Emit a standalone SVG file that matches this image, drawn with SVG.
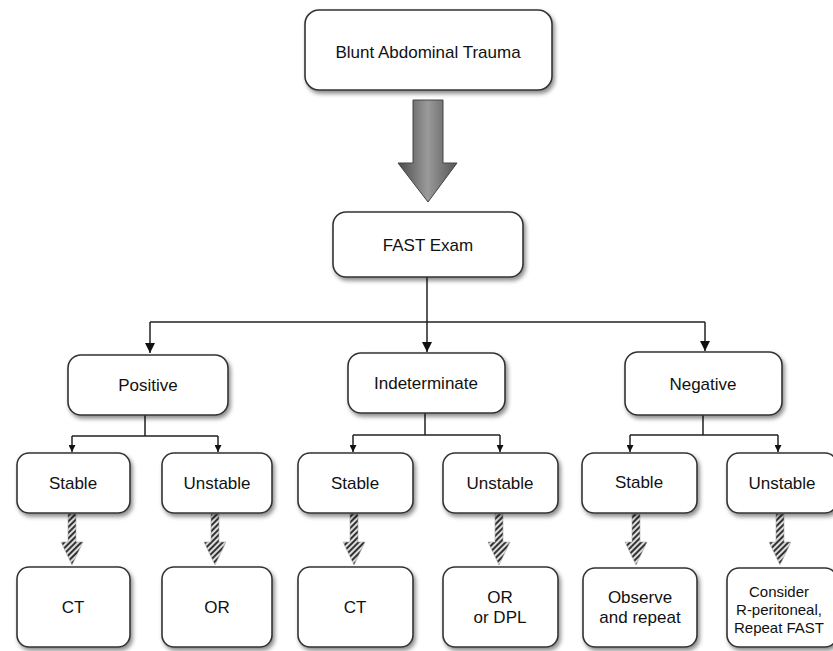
<svg xmlns="http://www.w3.org/2000/svg" width="833" height="651" viewBox="0 0 833 651">
<defs>
<style>
.box{fill:#fff;stroke:#333;stroke-width:1.6;filter:url(#sh)}
.t{font-family:"Liberation Sans",Arial,sans-serif;font-size:17px;fill:#111;text-anchor:middle}
.ts{font-family:"Liberation Sans",Arial,sans-serif;font-size:15px;fill:#111;text-anchor:middle}
.ln{fill:none;stroke:#222;stroke-width:1.5}
.hat{fill:url(#hatch);stroke:#aaa;stroke-width:0.6}
</style>
<filter id="sh" x="-20%" y="-20%" width="140%" height="150%">
<feDropShadow dx="2" dy="3" stdDeviation="2" flood-color="#000" flood-opacity="0.45"/>
</filter>
<linearGradient id="big" x1="0" y1="0" x2="1" y2="0">
<stop offset="0" stop-color="#4a4a4a"/>
<stop offset="0.5" stop-color="#9a9a9a"/>
<stop offset="1" stop-color="#555"/>
</linearGradient>
<pattern id="hatch" width="4" height="4" patternUnits="userSpaceOnUse" patternTransform="rotate(45)">
<rect x="0" y="0" width="4" height="4" fill="#ddd"/>
<rect x="0" y="0" width="2" height="4" fill="#333"/>
</pattern>
<marker id="ah" viewBox="0 0 10 10" refX="10" refY="5" markerWidth="7" markerHeight="7" markerUnits="userSpaceOnUse" orient="auto">
<path d="M0,0 L10,5 L0,10 z" fill="#111"/>
</marker>
<marker id="ahb" viewBox="0 0 10 10" refX="10" refY="5" markerWidth="10" markerHeight="10" markerUnits="userSpaceOnUse" orient="auto">
<path d="M0,0 L10,5 L0,10 z" fill="#111"/>
</marker>
</defs>

<g id="connectors">
<polygon points="413,100 443,100 443,163 457,163 428,202 398,163 413,163" fill="url(#big)" stroke="#444" stroke-width="1"/>
<path class="ln" d="M427,277 V322"/>
<path class="ln" d="M150,322 H705"/>
<path class="ln" d="M150,322 V353" marker-end="url(#ahb)"/>
<path class="ln" d="M427,322 V352" marker-end="url(#ahb)"/>
<path class="ln" d="M705,322 V351" marker-end="url(#ahb)"/>

<path class="ln" d="M145,415 V436 M72,436 H218"/>
<path class="ln" d="M72,436 V452" marker-end="url(#ah)"/>
<path class="ln" d="M218,436 V452" marker-end="url(#ah)"/>

<path class="ln" d="M425,413 V435 M353,435 H500"/>
<path class="ln" d="M353,435 V452" marker-end="url(#ah)"/>
<path class="ln" d="M500,435 V452" marker-end="url(#ah)"/>

<path class="ln" d="M703,415 V435 M630,435 H778"/>
<path class="ln" d="M630,435 V452" marker-end="url(#ah)"/>
<path class="ln" d="M778,435 V452" marker-end="url(#ah)"/>

<polygon class="hat" points="68,514 76,514 76,542 83,542 72,565 61,542 68,542"/>
<polygon class="hat" points="211,514 219,514 219,542 226,542 215,565 204,542 211,542"/>
<polygon class="hat" points="350,514 358,514 358,542 365,542 354,565 343,542 350,542"/>
<polygon class="hat" points="495,514 503,514 503,542 510,542 499,565 488,542 495,542"/>
<polygon class="hat" points="632,514 640,514 640,542 647,542 636,565 625,542 632,542"/>
<polygon class="hat" points="776,514 784,514 784,542 791,542 780,565 769,542 776,542"/>
</g>

<g id="n-trauma"><rect class="box" x="305" y="10" width="247" height="80" rx="14"/><text class="t" x="428" y="58">Blunt Abdominal Trauma</text></g>
<g id="n-fast"><rect class="box" x="333" y="212" width="190" height="65" rx="13"/><text class="t" x="428" y="251">FAST Exam</text></g>

<g id="n-positive"><rect class="box" x="68" y="355" width="160" height="60" rx="13"/><text class="t" x="148" y="391">Positive</text></g>
<g id="n-indeterminate"><rect class="box" x="348" y="353" width="157" height="60" rx="13"/><text class="t" x="426" y="389">Indeterminate</text></g>
<g id="n-negative"><rect class="box" x="625" y="352" width="157" height="63" rx="13"/><text class="t" x="703" y="390">Negative</text></g>

<g id="n-pos-stable"><rect class="box" x="17" y="453" width="113" height="60" rx="12"/><text class="t" x="73" y="489">Stable</text></g>
<g id="n-pos-unstable"><rect class="box" x="162" y="453" width="110" height="60" rx="12"/><text class="t" x="217" y="489">Unstable</text></g>
<g id="n-ind-stable"><rect class="box" x="298" y="453" width="115" height="60" rx="12"/><text class="t" x="355" y="489">Stable</text></g>
<g id="n-ind-unstable"><rect class="box" x="443" y="453" width="115" height="60" rx="12"/><text class="t" x="500" y="489">Unstable</text></g>
<g id="n-neg-stable"><rect class="box" x="582" y="453" width="115" height="60" rx="12"/><text class="t" x="639" y="488">Stable</text></g>
<g id="n-neg-unstable"><rect class="box" x="727" y="453" width="110" height="60" rx="12"/><text class="t" x="782" y="489">Unstable</text></g>

<g id="n-ct1"><rect class="box" x="17" y="567" width="113" height="80" rx="12"/><text class="t" x="73" y="613">CT</text></g>
<g id="n-or1"><rect class="box" x="162" y="567" width="110" height="80" rx="12"/><text class="t" x="217" y="613">OR</text></g>
<g id="n-ct2"><rect class="box" x="298" y="567" width="115" height="80" rx="12"/><text class="t" x="355" y="613">CT</text></g>
<g id="n-ordpl"><rect class="box" x="443" y="567" width="115" height="80" rx="12"/><text class="t" x="500" y="603">OR</text><text class="t" x="500" y="623">or DPL</text></g>
<g id="n-observe"><rect class="box" x="583" y="568" width="114" height="79" rx="12"/><text class="t" x="640" y="603">Observe</text><text class="t" x="640" y="623">and repeat</text></g>
<g id="n-consider"><rect class="box" x="727" y="568" width="110" height="79" rx="12"/><text class="ts" x="779" y="597">Consider</text><text class="ts" x="779" y="615">R-peritoneal,</text><text class="ts" x="779" y="633">Repeat FAST</text></g>
</svg>
